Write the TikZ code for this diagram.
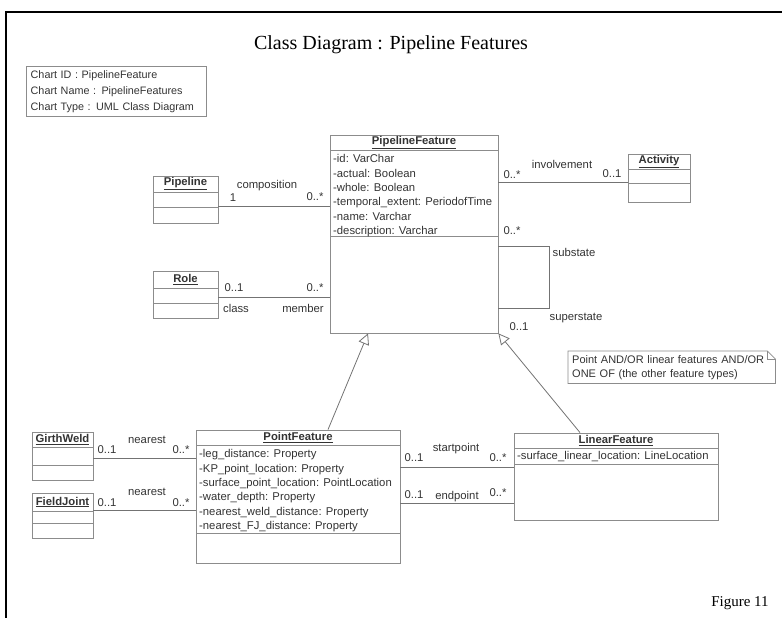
\documentclass[tikz,border=0pt]{standalone}
\usepackage{fontspec}
\setmainfont{Liberation Serif}
\newfontfamily\umlfont{Liberation Sans}
\usetikzlibrary{arrows.meta}
\definecolor{boxgray}{gray}{0.55}
\definecolor{wiregray}{gray}{0.45}
\definecolor{inkgray}{gray}{0.2}
\newcommand{\umlsize}{\umlfont\fontsize{11.3}{14}\selectfont}
\tikzset{
  classbox/.style={draw=boxgray, line width=0.8pt, inner sep=0pt, font=\umlsize\bfseries, text=inkgray},
  attr/.style={anchor=west, inner sep=0pt, font=\umlsize, text=inkgray, text height=8pt, text depth=2.5pt},
  lbl/.style={inner sep=0pt, font=\umlsize, text=inkgray},
  assoc/.style={draw=wiregray, line width=0.8pt},
  gen/.style={draw=wiregray, line width=0.8pt, -{Triangle[open, length=11pt, width=11pt, fill=white]}},
  notebox/.style={draw=boxgray, line width=0.8pt}
}
\begin{document}
\begin{tikzpicture}[x=1pt, y=-1pt]
\useasboundingbox (0,0) rectangle (782,618);
\draw[line width=1.5pt] (5,12) -- (782,12);
\draw[line width=1.5pt] (6,12) -- (6,618);
\node (title) at (391,45) {\fontsize{20}{24}\selectfont Class Diagram : Pipeline Features};
\node (figlabel) at (740,603) {\fontsize{15}{18}\selectfont Figure 11};

\node[draw=boxgray, line width=1.4pt, anchor=north west, text width=172, inner xsep=4pt, minimum height=50, align=left, font=\umlfont\fontsize{10.8}{16}\selectfont, text=inkgray] (chartinfo) at (26,66) {Chart ID : PipelineFeature\\Chart Name : PipelineFeatures\\Chart Type : UML Class Diagram};

% PipelineFeature
\node[classbox, minimum width=168, minimum height=15] (PFname) at (414,142.5) {\underline{PipelineFeature}};
\node[classbox, minimum width=168, minimum height=86] (PFattr) at (414,193) {};
\node[classbox, minimum width=168, minimum height=97] (PFops) at (414,284.5) {};
\node[attr] (PFid) at (333,160) {-id: VarChar};
\node[attr] (PFactual) at (333,174.4) {-actual: Boolean};
\node[attr] (PFwhole) at (333,188.8) {-whole: Boolean};
\node[attr] (PFtemporal) at (333,203.2) {-temporal\_extent: PeriodofTime};
\node[attr] (PFvarname) at (333,217.6) {-name: Varchar};
\node[attr] (PFdescription) at (333,232) {-description: Varchar};

% Activity
\node[classbox, minimum width=62, minimum height=15] (ACname) at (659,161.5) {\underline{Activity}};
\node[classbox, minimum width=62, minimum height=14] (ACattr) at (659,176) {};
\node[classbox, minimum width=62, minimum height=19] (ACops) at (659,192.5) {};

% Pipeline
\node[classbox, minimum width=65, minimum height=16] (PLname) at (185.5,184) {\underline{Pipeline}};
\node[classbox, minimum width=65, minimum height=15] (PLattr) at (185.5,199.5) {};
\node[classbox, minimum width=65, minimum height=16] (PLops) at (185.5,215) {};

% Role
\node[classbox, minimum width=65, minimum height=17] (ROname) at (185.5,279.5) {\underline{Role}};
\node[classbox, minimum width=65, minimum height=15] (ROattr) at (185.5,295.5) {};
\node[classbox, minimum width=65, minimum height=15] (ROops) at (185.5,310.5) {};

% PointFeature
\node[classbox, minimum width=204, minimum height=15] (PTname) at (298,437.5) {\underline{PointFeature}};
\node[classbox, minimum width=204, minimum height=88] (PTattr) at (298,489) {};
\node[classbox, minimum width=204, minimum height=30] (PTops) at (298,548) {};
\node[attr] (PTleg) at (199,455) {-leg\_distance: Property};
\node[attr] (PTkp) at (199,469.5) {-KP\_point\_location: Property};
\node[attr] (PTsurface) at (199,484) {-surface\_point\_location: PointLocation};
\node[attr] (PTwater) at (199,498) {-water\_depth: Property};
\node[attr] (PTweld) at (199,512.5) {-nearest\_weld\_distance: Property};
\node[attr] (PTfj) at (199,527) {-nearest\_FJ\_distance: Property};

% LinearFeature
\node[classbox, minimum width=204, minimum height=15] (LFname) at (616,440.5) {\underline{LinearFeature}};
\node[classbox, minimum width=204, minimum height=16] (LFattr) at (616,456) {};
\node[classbox, minimum width=204, minimum height=56] (LFops) at (616,492) {};
\node[attr] (LFsurface) at (517,457) {-surface\_linear\_location: LineLocation};

% GirthWeld and FieldJoint
\node[classbox, minimum width=61, minimum height=15] (GWname) at (62.5,439.5) {\underline{GirthWeld}};
\node[classbox, minimum width=61, minimum height=18] (GWattr) at (62.5,456) {};
\node[classbox, minimum width=61, minimum height=15] (GWops) at (62.5,472.5) {};
\node[classbox, minimum width=61, minimum height=18] (FJname) at (62.5,502) {\underline{FieldJoint}};
\node[classbox, minimum width=61, minimum height=12] (FJattr) at (62.5,517) {};
\node[classbox, minimum width=61, minimum height=15] (FJops) at (62.5,530.5) {};

% note
\node[anchor=north west, text width=199, inner xsep=4pt, inner ysep=0pt, minimum height=32, align=left, font=\umlfont\fontsize{11}{14}\selectfont, text=inkgray] (note) at (568,351) {Point AND/OR linear features AND/OR\\ONE OF (the other feature types)};
\draw[notebox] (note.north west) -- ([xshift=-8pt]note.north east) -- ([yshift=-8pt]note.north east) -- (note.south east) -- (note.south west) -- cycle;
\draw[notebox] ([xshift=-8pt]note.north east) |- ([yshift=-8pt]note.north east);

% associations
\coordinate (invY) at (560,182);
\draw[assoc] (PFattr.east |- invY) -- (ACattr.west |- invY);
\node[lbl] (invname) at (562,164) {involvement};
\node[lbl] (invfrom) at (512,175) {0..*};
\node[lbl] (invto) at (612,174) {0..1};

\coordinate (compY) at (270,206);
\draw[assoc] (PLattr.east |- compY) -- (PFattr.west |- compY);
\node[lbl] (compname) at (267,186) {composition};
\node[lbl] (compfrom) at (233,198) {1};
\node[lbl] (compto) at (315,197) {0..*};

\coordinate (roleY) at (270,297);
\draw[assoc] (ROattr.east |- roleY) -- (PFops.west |- roleY);
\node[lbl] (rolefrom) at (234,288) {0..1};
\node[lbl] (roleto) at (315,288) {0..*};
\node[lbl] (roleclass) at (236,308) {class};
\node[lbl] (rolemember) at (303,308) {member};

\coordinate (subA) at (549,246);
\coordinate (subB) at (549,308);
\draw[assoc] (PFops.east |- subA) -- (subA) -- (subB) -- (PFops.east |- subB);
\node[lbl] (subfrom) at (512,231) {0..*};
\node[lbl] (subname) at (574,252) {substate};
\node[lbl] (supname) at (576,318) {superstate};
\node[lbl] (supto) at (519,327) {0..1};

\coordinate (gwY) at (140,458);
\draw[assoc] (GWattr.east |- gwY) -- (PTattr.west |- gwY);
\node[lbl] (gwfrom) at (107,450) {0..1};
\node[lbl] (gwname) at (147,440) {nearest};
\node[lbl] (gwto) at (181,450) {0..*};

\draw[assoc] (FJattr.north east) -- (FJattr.north east -| PTattr.west);
\node[lbl] (fjfrom) at (107,503) {0..1};
\node[lbl] (fjname) at (147,492) {nearest};
\node[lbl] (fjto) at (181,503) {0..*};

\coordinate (startY) at (456,467);
\coordinate (endY) at (456,503);
\draw[assoc] (PTattr.east |- startY) -- (LFops.west |- startY);
\draw[assoc] (PTattr.east |- endY) -- (LFops.west |- endY);
\node[lbl] (startfrom) at (414,458) {0..1};
\node[lbl] (startname) at (456,449) {startpoint};
\node[lbl] (startto) at (498,458) {0..*};
\node[lbl] (endfrom) at (414,495) {0..1};
\node[lbl] (endname) at (457,497) {endpoint};
\node[lbl] (endto) at (498,493) {0..*};

% generalizations
\draw[gen] ([xshift=30pt]PTname.north) -- ([xshift=-46pt]PFops.south);
\draw[gen] ([xshift=-36pt]LFname.north) -- (PFops.south east);
\end{tikzpicture}
\end{document}
